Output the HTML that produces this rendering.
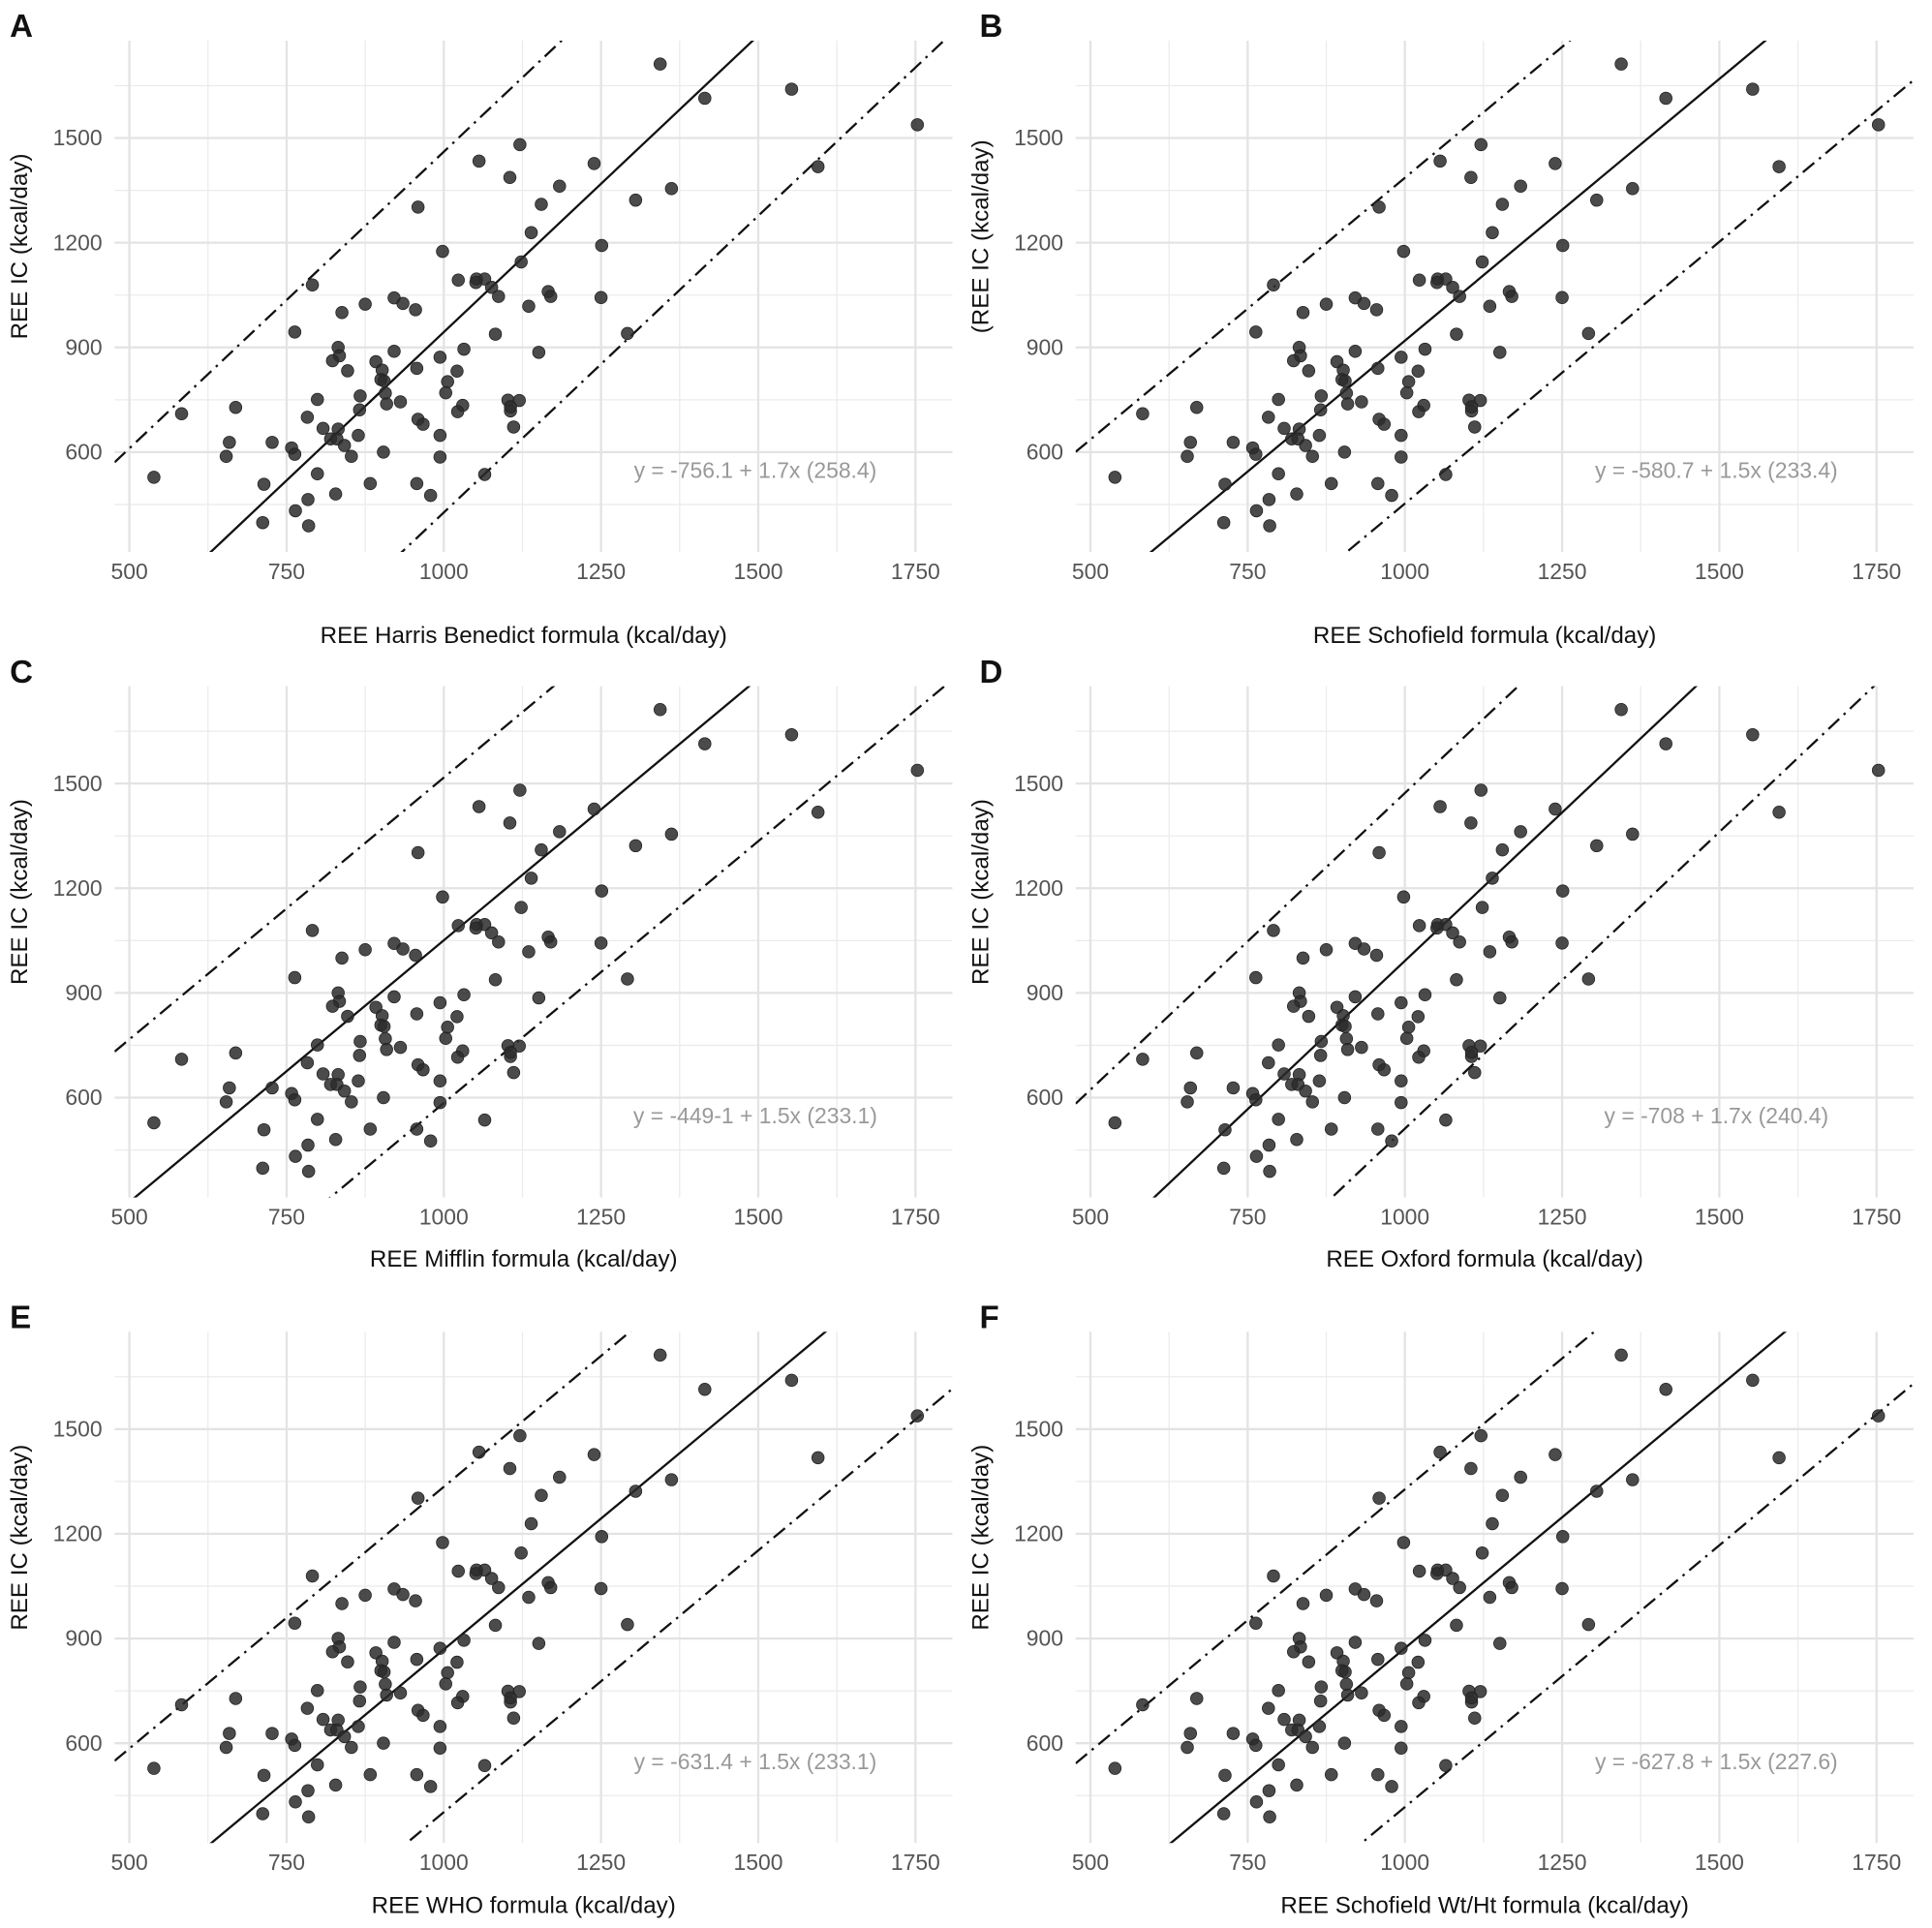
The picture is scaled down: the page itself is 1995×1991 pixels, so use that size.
<!DOCTYPE html>
<html><head><meta charset="utf-8"><style>
html,body{margin:0;padding:0;background:#fff;width:1995px;height:1991px;overflow:hidden;}
svg{display:block;}
text{font-family:"Liberation Sans",sans-serif;}
</style></head><body>
<svg id="fig" width="1995" height="1991" viewBox="0 0 1568 1565" preserveAspectRatio="none" xmlns="http://www.w3.org/2000/svg"></svg>
<script>
const xValues=[1344,1553,1415,1753,1121,1056,1239,1105,1595,1184,1362,959,1155,1305,1139,1251,998,1123,1023,1052,1065,1051,1076,1087,1166,1170,1250,791,875,921,935,955,1135,838,763,1082,1292,832,1032,921,1151,834,823,892,994,847,902,957,1021,900,905,1006,907,1003,799,867,931,909,1030,1102,1120,1106,1022,1106,669,583,866,783,808,832,864,959,967,994,1111,820,830,842,659,727,758,763,654,904,853,994,539,1065,799,714,883,957,979,828,784,764,712,785];
const yValues=[1712,1640,1614,1538,1481,1434,1427,1387,1418,1362,1355,1302,1310,1322,1229,1192,1175,1145,1093,1096,1096,1086,1072,1046,1060,1046,1043,1079,1024,1042,1026,1008,1018,1000,944,938,940,900,895,889,886,876,862,859,872,833,835,840,832,808,804,802,769,770,751,761,744,738,734,749,748,718,716,730,728,710,721,700,668,666,648,694,680,648,672,638,638,619,628,628,612,594,588,600,588,586,528,536,538,508,510,510,476,480,464,432,398,389];
const xTicks=[500,750,1000,1250,1500,1750];
const yTicks=[600,900,1200,1500];
const panelLetters=["A","B","C","D","E","F"];
const xTitles=["REE Harris Benedict formula (kcal/day)","REE Schofield formula (kcal/day)","REE Mifflin formula (kcal/day)","REE Oxford formula (kcal/day)","REE WHO formula (kcal/day)","REE Schofield Wt/Ht formula (kcal/day)"];
const yTitles=["REE  IC (kcal/day)","(REE  IC (kcal/day)","REE  IC (kcal/day)","REE  IC (kcal/day)","REE  IC (kcal/day)","REE  IC (kcal/day)"];
const intercepts=[-756.1,-580.7,-449.1,-708,-631.4,-627.8];
const slopes=[1.7,1.5,1.5,1.7,1.5,1.5];
const ses=[258.4,233.4,233.1,240.4,233.1,227.6];
const eqLabels=["y = -756.1 + 1.7x (258.4)","y = -580.7 + 1.5x (233.4)","y = -449-1 + 1.5x (233.1)","y = -708 + 1.7x (240.4)","y = -631.4 + 1.5x (233.1)","y = -627.8 + 1.5x (227.6)"];

const NS="http://www.w3.org/2000/svg";
const svg=document.getElementById('fig');
function mk(tag,attrs,parent){const e=document.createElementNS(NS,tag);for(const k in attrs)e.setAttribute(k,attrs[k]);(parent||svg).appendChild(e);return e;}
const X0=93,X1=773,Y0=33,Y1=448;
const xMin=500+(X0-105)/0.5104, xMax=500+(X1-105)/0.5104;
for(let p=0;p<6;p++){
  const dx=(p%2)*780, dy=Math.floor(p/2)*524;
  const xs=v=>dx+105+(v-500)*0.5104;
  const ys=v=>dy+367-(v-600)*0.2833;
  const g=mk('g',{});
  
  
  const cid='clip'+p;
  const cp=mk('clipPath',{id:cid},g);
  mk('rect',{x:dx+X0,y:dy+Y0,width:X1-X0,height:Y1-Y0},cp);
  const grid=mk('g',{},g);
  
  
  for(let v=625;v<=1750;v+=250)mk('line',{x1:xs(v),x2:xs(v),y1:dy+Y0,y2:dy+Y1,stroke:'#ebebeb','stroke-width':1},grid);
  for(let v=450;v<=1650;v+=300)mk('line',{x1:dx+X0,x2:dx+X1,y1:ys(v),y2:ys(v),stroke:'#ebebeb','stroke-width':1},grid);
  xTicks.forEach(v=>mk('line',{x1:xs(v),x2:xs(v),y1:dy+Y0,y2:dy+Y1,stroke:'#e3e3e3','stroke-width':1.8},grid));
  yTicks.forEach(v=>mk('line',{x1:dx+X0,x2:dx+X1,y1:ys(v),y2:ys(v),stroke:'#e3e3e3','stroke-width':1.8},grid));
  xTicks.forEach(v=>{const t=mk('text',{x:xs(v),y:dy+470,'text-anchor':'middle','font-size':18,fill:'#555'},g);t.textContent=v;
    
    });
  yTicks.forEach(v=>{const t=mk('text',{x:dx+83,y:ys(v)+6,'text-anchor':'end','font-size':18,fill:'#555'},g);t.textContent=v;
    
    });
  const lines=mk('g',{'clip-path':'url(#'+cid+')'},g);
  [0,2,-2].forEach(k=>{
    const l=mk('line',{x1:xs(xMin),y1:ys(intercepts[p]+slopes[p]*xMin+k*ses[p]),x2:xs(xMax),y2:ys(intercepts[p]+slopes[p]*xMax+k*ses[p]),stroke:'#111','stroke-width':1.8},lines);
    if(k!==0)l.setAttribute('stroke-dasharray','12 5 2 5');
    
    
  });
  const pts=mk('g',{},g);
  
  
  for(let i=0;i<xValues.length;i++){
    const c=mk('circle',{cx:xs(xValues[i]),cy:ys(yValues[i]),r:5,fill:'#2b2b2b','fill-opacity':0.85,stroke:'#222','stroke-width':0.6},pts);
    
    
  }
  const eq=mk('text',{x:dx+613,y:dy+388,'text-anchor':'middle','font-size':18,fill:'#999'},g);
  eq.textContent=eqLabels[p];
  
  
  const xt=mk('text',{x:dx+425,y:dy+(p<2?522:(p<4?1028-524:1553-1048)),'text-anchor':'middle','font-size':19,fill:'#111'},g);
  xt.textContent=xTitles[p];
  
  
  const yt=mk('text',{x:0,y:0,'text-anchor':'middle','font-size':19,fill:'#111',transform:'translate('+(dx+22)+','+(dy+(p===1?192:200))+') rotate(-90)'},g);
  yt.textContent=yTitles[p];
  
  
  const pl=mk('text',{x:dx+(p%2?15:8),y:dy+30,'font-size':26,'font-weight':'bold',fill:'#111'},g);
  pl.textContent=panelLetters[p];
  
  
}
</script>
</body></html>
